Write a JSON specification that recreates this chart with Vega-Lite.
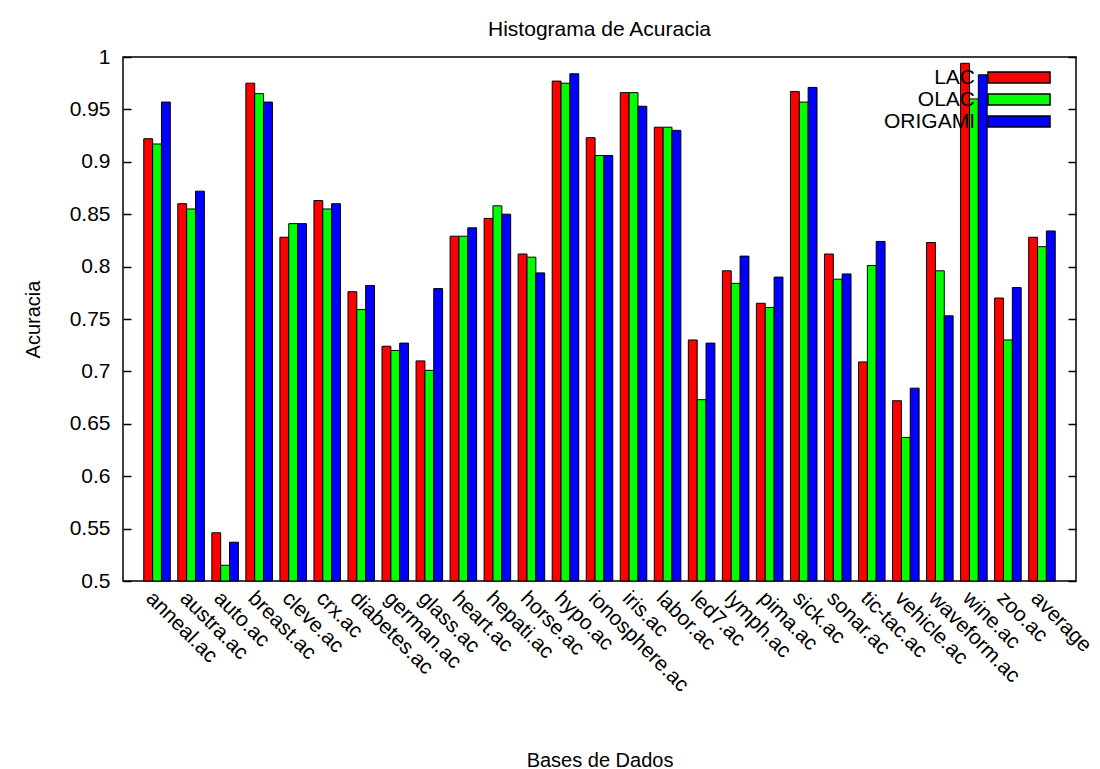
{
  "$schema": "https://vega.github.io/schema/vega-lite/v6.json",
  "width": 953,
  "height": 524,
  "autosize": "none",
  "padding": {"left": 123, "top": 57, "right": 24, "bottom": 188},
  "background": "white",
  "config": {
    "font": "Liberation Sans",
    "view": {"stroke": "black", "strokeWidth": 1.5},
    "title": {"fontSize": 21, "fontWeight": "normal", "color": "black", "offset": 6, "anchor": "middle"}
  },
  "title": "Histograma de Acuracia",
  "data": {"values": [
    {"base": "anneal.ac", "metodo": "LAC", "acuracia": 0.922},
    {"base": "anneal.ac", "metodo": "OLAC", "acuracia": 0.917},
    {"base": "anneal.ac", "metodo": "ORIGAMI", "acuracia": 0.957},
    {"base": "austra.ac", "metodo": "LAC", "acuracia": 0.860},
    {"base": "austra.ac", "metodo": "OLAC", "acuracia": 0.855},
    {"base": "austra.ac", "metodo": "ORIGAMI", "acuracia": 0.872},
    {"base": "auto.ac", "metodo": "LAC", "acuracia": 0.546},
    {"base": "auto.ac", "metodo": "OLAC", "acuracia": 0.515},
    {"base": "auto.ac", "metodo": "ORIGAMI", "acuracia": 0.537},
    {"base": "breast.ac", "metodo": "LAC", "acuracia": 0.975},
    {"base": "breast.ac", "metodo": "OLAC", "acuracia": 0.965},
    {"base": "breast.ac", "metodo": "ORIGAMI", "acuracia": 0.957},
    {"base": "cleve.ac", "metodo": "LAC", "acuracia": 0.828},
    {"base": "cleve.ac", "metodo": "OLAC", "acuracia": 0.841},
    {"base": "cleve.ac", "metodo": "ORIGAMI", "acuracia": 0.841},
    {"base": "crx.ac", "metodo": "LAC", "acuracia": 0.863},
    {"base": "crx.ac", "metodo": "OLAC", "acuracia": 0.855},
    {"base": "crx.ac", "metodo": "ORIGAMI", "acuracia": 0.860},
    {"base": "diabetes.ac", "metodo": "LAC", "acuracia": 0.776},
    {"base": "diabetes.ac", "metodo": "OLAC", "acuracia": 0.759},
    {"base": "diabetes.ac", "metodo": "ORIGAMI", "acuracia": 0.782},
    {"base": "german.ac", "metodo": "LAC", "acuracia": 0.724},
    {"base": "german.ac", "metodo": "OLAC", "acuracia": 0.720},
    {"base": "german.ac", "metodo": "ORIGAMI", "acuracia": 0.727},
    {"base": "glass.ac", "metodo": "LAC", "acuracia": 0.710},
    {"base": "glass.ac", "metodo": "OLAC", "acuracia": 0.701},
    {"base": "glass.ac", "metodo": "ORIGAMI", "acuracia": 0.779},
    {"base": "heart.ac", "metodo": "LAC", "acuracia": 0.829},
    {"base": "heart.ac", "metodo": "OLAC", "acuracia": 0.829},
    {"base": "heart.ac", "metodo": "ORIGAMI", "acuracia": 0.837},
    {"base": "hepati.ac", "metodo": "LAC", "acuracia": 0.846},
    {"base": "hepati.ac", "metodo": "OLAC", "acuracia": 0.858},
    {"base": "hepati.ac", "metodo": "ORIGAMI", "acuracia": 0.850},
    {"base": "horse.ac", "metodo": "LAC", "acuracia": 0.812},
    {"base": "horse.ac", "metodo": "OLAC", "acuracia": 0.809},
    {"base": "horse.ac", "metodo": "ORIGAMI", "acuracia": 0.794},
    {"base": "hypo.ac", "metodo": "LAC", "acuracia": 0.977},
    {"base": "hypo.ac", "metodo": "OLAC", "acuracia": 0.975},
    {"base": "hypo.ac", "metodo": "ORIGAMI", "acuracia": 0.984},
    {"base": "ionosphere.ac", "metodo": "LAC", "acuracia": 0.923},
    {"base": "ionosphere.ac", "metodo": "OLAC", "acuracia": 0.906},
    {"base": "ionosphere.ac", "metodo": "ORIGAMI", "acuracia": 0.906},
    {"base": "iris.ac", "metodo": "LAC", "acuracia": 0.966},
    {"base": "iris.ac", "metodo": "OLAC", "acuracia": 0.966},
    {"base": "iris.ac", "metodo": "ORIGAMI", "acuracia": 0.953},
    {"base": "labor.ac", "metodo": "LAC", "acuracia": 0.933},
    {"base": "labor.ac", "metodo": "OLAC", "acuracia": 0.933},
    {"base": "labor.ac", "metodo": "ORIGAMI", "acuracia": 0.930},
    {"base": "led7.ac", "metodo": "LAC", "acuracia": 0.730},
    {"base": "led7.ac", "metodo": "OLAC", "acuracia": 0.673},
    {"base": "led7.ac", "metodo": "ORIGAMI", "acuracia": 0.727},
    {"base": "lymph.ac", "metodo": "LAC", "acuracia": 0.796},
    {"base": "lymph.ac", "metodo": "OLAC", "acuracia": 0.784},
    {"base": "lymph.ac", "metodo": "ORIGAMI", "acuracia": 0.810},
    {"base": "pima.ac", "metodo": "LAC", "acuracia": 0.765},
    {"base": "pima.ac", "metodo": "OLAC", "acuracia": 0.761},
    {"base": "pima.ac", "metodo": "ORIGAMI", "acuracia": 0.790},
    {"base": "sick.ac", "metodo": "LAC", "acuracia": 0.967},
    {"base": "sick.ac", "metodo": "OLAC", "acuracia": 0.957},
    {"base": "sick.ac", "metodo": "ORIGAMI", "acuracia": 0.971},
    {"base": "sonar.ac", "metodo": "LAC", "acuracia": 0.812},
    {"base": "sonar.ac", "metodo": "OLAC", "acuracia": 0.788},
    {"base": "sonar.ac", "metodo": "ORIGAMI", "acuracia": 0.793},
    {"base": "tic-tac.ac", "metodo": "LAC", "acuracia": 0.709},
    {"base": "tic-tac.ac", "metodo": "OLAC", "acuracia": 0.801},
    {"base": "tic-tac.ac", "metodo": "ORIGAMI", "acuracia": 0.824},
    {"base": "vehicle.ac", "metodo": "LAC", "acuracia": 0.672},
    {"base": "vehicle.ac", "metodo": "OLAC", "acuracia": 0.637},
    {"base": "vehicle.ac", "metodo": "ORIGAMI", "acuracia": 0.684},
    {"base": "waveform.ac", "metodo": "LAC", "acuracia": 0.823},
    {"base": "waveform.ac", "metodo": "OLAC", "acuracia": 0.796},
    {"base": "waveform.ac", "metodo": "ORIGAMI", "acuracia": 0.753},
    {"base": "wine.ac", "metodo": "LAC", "acuracia": 0.994},
    {"base": "wine.ac", "metodo": "OLAC", "acuracia": 0.960},
    {"base": "wine.ac", "metodo": "ORIGAMI", "acuracia": 0.983},
    {"base": "zoo.ac", "metodo": "LAC", "acuracia": 0.770},
    {"base": "zoo.ac", "metodo": "OLAC", "acuracia": 0.730},
    {"base": "zoo.ac", "metodo": "ORIGAMI", "acuracia": 0.780},
    {"base": "average", "metodo": "LAC", "acuracia": 0.828},
    {"base": "average", "metodo": "OLAC", "acuracia": 0.819},
    {"base": "average", "metodo": "ORIGAMI", "acuracia": 0.834}
  ]},
  "encoding": {
    "x": {
      "field": "base", "type": "nominal", "sort": null,
      "scale": {"paddingInner": 0.22, "paddingOuter": 0.61},
      "axis": {
        "title": "Bases de Dados", "titleFontSize": 20, "titleFontWeight": "normal", "titleColor": "black",
        "titleY": 179, "titleBaseline": "middle",
        "labelAngle": 45, "labelAlign": "left", "labelBaseline": "top", "labelFontSize": 21,
        "labelColor": "black", "labelPadding": 6, "ticks": false, "domain": false, "grid": false
      }
    },
    "xOffset": {"field": "metodo", "type": "nominal", "sort": ["LAC", "OLAC", "ORIGAMI"], "scale": {"paddingInner": 0, "paddingOuter": 0}},
    "y": {
      "field": "acuracia", "type": "quantitative",
      "scale": {"domain": [0.5, 1], "zero": false, "nice": false},
      "axis": {
        "title": "Acuracia", "titleFontSize": 20, "titleFontWeight": "normal", "titleColor": "black",
        "titleX": -80, "titlePadding": 0,
        "values": [0.5, 0.55, 0.6, 0.65, 0.7, 0.75, 0.8, 0.85, 0.9, 0.95, 1],
        "format": "~g", "labelFontSize": 21, "labelColor": "black",
        "tickSize": -8, "tickColor": "black", "tickWidth": 1.5, "labelPadding": 21,
        "domain": false, "grid": false
      }
    },
    "y2": {"datum": 0.5}
  },
  "layer": [
    {
      "mark": {"type": "bar", "stroke": "black", "strokeWidth": 1, "opacity": 1},
      "encoding": {
        "color": {
          "field": "metodo", "type": "nominal",
          "scale": {"domain": ["LAC", "OLAC", "ORIGAMI"], "range": ["#ff0000", "#00ff00", "#0000ff"]},
          "legend": {
            "title": null, "orient": "none", "legendX": 885.5, "legendY": 10,
            "symbolType": "M-5.64,-1L5.64,-1L5.64,1L-5.64,1Z", "symbolSize": 121,
            "symbolStrokeColor": "black", "symbolStrokeWidth": 1.5, "symbolOpacity": 1,
            "labelAlign": "right", "labelOffset": -54.5, "labelFontSize": 21, "labelColor": "black",
            "rowPadding": 0
          }
        }
      }
    },
    {
      "mark": {"type": "bar", "opacity": 0},
      "encoding": {
        "y": {
          "field": "acuracia", "type": "quantitative",
          "scale": {"domain": [0.5, 1], "zero": false, "nice": false},
          "axis": {
            "orient": "right", "title": null, "labels": false,
            "values": [0.5, 0.55, 0.6, 0.65, 0.7, 0.75, 0.8, 0.85, 0.9, 0.95, 1],
            "tickSize": -8, "tickColor": "black", "tickWidth": 1.5,
            "domain": false, "grid": false
          }
        }
      }
    }
  ],
  "resolve": {"axis": {"y": "independent"}}
}
